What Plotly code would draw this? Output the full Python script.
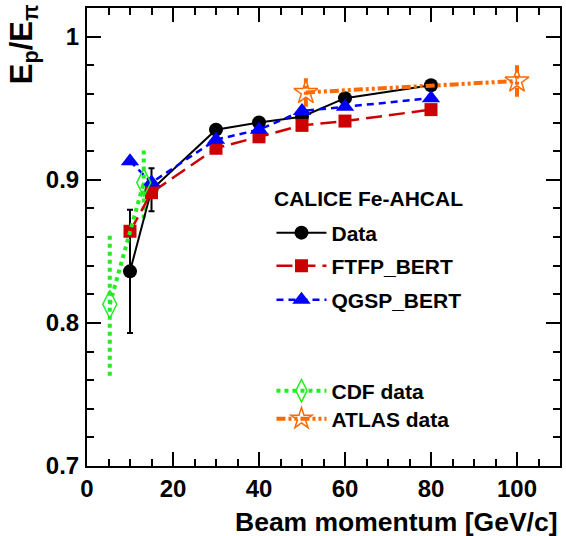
import plotly.graph_objects as go

# ---- data ----
p_calice = [10, 15, 30, 40, 50, 60, 80]
data_y = [0.836, 0.893, 0.935, 0.940, 0.944, 0.957, 0.966]
data_err = [0.043, 0.015, 0.003, 0.003, 0.003, 0.003, 0.003]
ftfp_y = [0.864, 0.891, 0.922, 0.930, 0.938, 0.941, 0.949]
qgsp_y = [0.913, 0.898, 0.928, 0.935, 0.948, 0.951, 0.957]

p_cdf = [5.3, 13.2]
cdf_y = [0.813, 0.898]
cdf_err = [0.050, 0.025]

p_atlas = [50.9, 100]
atlas_y = [0.961, 0.969]
atlas_err = [0.010, 0.011]

x_ticks = [0, 20, 40, 60, 80, 100]
y_ticks = [0.7, 0.8, 0.9, 1.0]

FONT = "Liberation Sans"
C_DATA = "black"
C_FTFP = "#cc0000"
C_QGSP = "#0000ff"
C_CDF = "#22ee22"
C_ATLAS = "#ff6a00"
ATLAS_DASH = "9px,3px,3px,3px,3px,3px"


def err_segments(xs, ys, es):
    sx, sy = [], []
    for x, y, e in zip(xs, ys, es):
        sx += [x, x, None]
        sy += [y - e, y + e, None]
    return sx, sy


fig = go.Figure()

# CDF error bars (dotted)
ex, ey = err_segments(p_cdf, cdf_y, cdf_err)
fig.add_trace(go.Scatter(x=ex, y=ey, mode="lines", showlegend=False,
                         line=dict(color=C_CDF, width=4, dash="dot"), hoverinfo="skip"))
# ATLAS error bars
ex, ey = err_segments(p_atlas, atlas_y, atlas_err)
fig.add_trace(go.Scatter(x=ex, y=ey, mode="lines", showlegend=False,
                         line=dict(color=C_ATLAS, width=4, dash=ATLAS_DASH), hoverinfo="skip"))

fig.add_trace(go.Scatter(
    x=p_calice, y=data_y, mode="lines+markers", name="Data", legend="legend",
    line=dict(color=C_DATA, width=2),
    marker=dict(symbol="circle", size=14, color=C_DATA),
    error_y=dict(type="data", array=data_err, color=C_DATA, thickness=2, width=3),
))
fig.add_trace(go.Scatter(
    x=p_calice, y=ftfp_y, mode="lines+markers", name="FTFP_BERT", legend="legend2",
    line=dict(color=C_FTFP, width=2.5, dash="16px,7px"),
    marker=dict(symbol="square", size=13, color=C_FTFP),
))
fig.add_trace(go.Scatter(
    x=p_calice, y=qgsp_y, mode="lines+markers", name="QGSP_BERT", legend="legend3",
    line=dict(color=C_QGSP, width=2.5, dash="7px,5px"),
    marker=dict(symbol="triangle-up", size=16, color=C_QGSP),
))
fig.add_trace(go.Scatter(
    x=p_cdf, y=cdf_y, mode="lines+markers", name="CDF data", legend="legend4",
    line=dict(color=C_CDF, width=4, dash="dot"),
    marker=dict(symbol="diamond-tall-open", size=20, color=C_CDF, line=dict(width=1.5)),
))
fig.add_trace(go.Scatter(
    x=p_atlas, y=atlas_y, mode="lines+markers", name="ATLAS data", legend="legend5",
    line=dict(color=C_ATLAS, width=4, dash=ATLAS_DASH),
    marker=dict(symbol="star-open", size=18, color=C_ATLAS, line=dict(width=1.5)),
))

axis_common = dict(
    showline=True, linecolor="black", linewidth=2, mirror="ticks",
    ticks="inside", tickcolor="black", tickwidth=1.5, ticklen=14,
    showgrid=False, zeroline=False,
    tickfont=dict(family=FONT, size=24, color="black", weight="bold"),
)

fig.update_xaxes(range=[0, 110], tickvals=x_ticks, ticklabelstandoff=0,
                 minor=dict(dtick=5, ticks="inside", ticklen=7, tickcolor="black", tickwidth=1.5, showgrid=False),
                 **axis_common)
fig.update_yaxes(range=[0.7, 1.02], tickvals=y_ticks, ticklabelstandoff=1,
                 minor=dict(dtick=0.02, ticks="inside", ticklen=7, tickcolor="black", tickwidth=1.5, showgrid=False),
                 **axis_common)

fig.add_annotation(text="Beam momentum [GeV/c]", xref="paper", yref="paper",
                   x=1.0, y=-0.122, xanchor="right", yanchor="middle", showarrow=False,
                   font=dict(family=FONT, size=26.5, color="black", weight="bold"))
fig.add_annotation(text="E<sub>p</sub>/E<sub>π</sub>", xref="paper", yref="paper",
                   x=-0.134, y=0.92, xanchor="center", yanchor="middle", showarrow=False,
                   textangle=-90,
                   font=dict(family=FONT, size=31, color="black", weight="bold"))
fig.add_annotation(text="CALICE Fe-AHCAL", xref="paper", yref="paper",
                   x=0.3916, y=0.585, xanchor="left", yanchor="middle", showarrow=False,
                   font=dict(family=FONT, size=21, color="black", weight="bold"))

leg_font = dict(family=FONT, size=21, color="black", weight="bold")
leg_y = {"legend": 0.5087, "legend2": 0.4367, "legend3": 0.3624,
         "legend4": 0.1638, "legend5": 0.1026}
legends = {}
for name, yv in leg_y.items():
    legends[name] = dict(x=0.39, y=yv, xanchor="left", yanchor="middle",
                         bgcolor="rgba(0,0,0,0)", itemwidth=50, font=leg_font)

fig.update_layout(
    width=566, height=536,
    margin=dict(l=87, r=4, t=8, b=70),
    plot_bgcolor="white", paper_bgcolor="white",
    font=dict(family=FONT, color="black"),
    **legends,
)

fig.write_html("out.html")
